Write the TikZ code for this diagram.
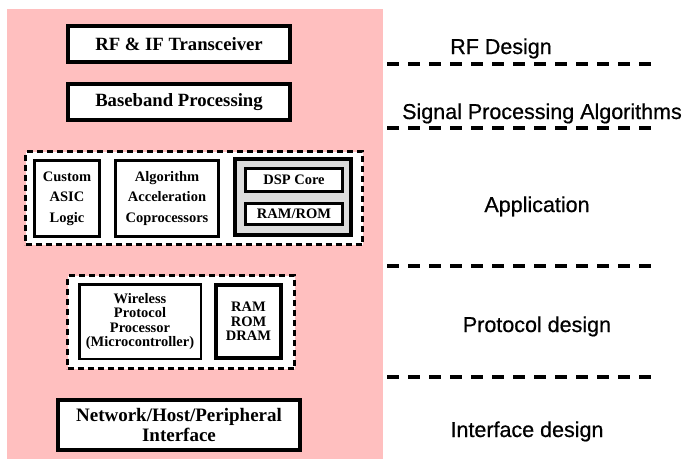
\documentclass[tikz,border=0pt]{standalone}
\usepackage{fontspec}
\setmainfont{Liberation Serif}
\newfontfamily\layerfont[FakeBold=0.6]{Liberation Sans}
\definecolor{bgpink}{RGB}{255,191,191}
\definecolor{dspgray}{RGB}{220,220,220}

\begin{document}
\begin{tikzpicture}[x=1pt,y=-1pt,
    unitbox/.style={draw=black,fill=white,inner sep=0pt,align=center},
    heavy/.style={line width=4pt},
    medium/.style={line width=3pt},
    dashbox/.style={draw=black,fill=white,inner sep=0pt,line width=3pt,dash pattern=on 6pt off 4pt},
    bigtxt/.style={font=\bfseries\fontsize{18.7}{20}\selectfont},
    midtxt/.style={font=\bfseries\fontsize{14.5}{20.5}\selectfont},
    smalltxt/.style={font=\bfseries\fontsize{14.5}{14.5}\selectfont},
    layer/.style={font=\layerfont\fontsize{21.5}{24}\selectfont,anchor=base},
    sep/.style={line width=4.5pt,dash pattern=on 12pt off 9pt}]
            \useasboundingbox (0,0) rectangle (684,460);
            \fill[bgpink] (7,9) rectangle (383,459);
            \node[unitbox,heavy,bigtxt,minimum width=222pt,minimum height=36pt] (rfif) at (179,44) {RF \& IF Transceiver};
            \node[unitbox,heavy,bigtxt,minimum width=222pt,minimum height=36pt] (baseband) at (179,102) {Baseband Processing};
            \node[dashbox,minimum width=337pt,minimum height=93pt] (appl) at (194,198) {};
            \node[unitbox,medium,midtxt,minimum width=65pt,minimum height=76pt] (asic) at (67,198.5) {Custom\\ASIC\\Logic};
            \node[unitbox,medium,midtxt,minimum width=103pt,minimum height=76pt] (accel) at (167,198.5) {Algorithm\\Acceleration\\Coprocessors};
            \node[unitbox,heavy,fill=dspgray,minimum width=116pt,minimum height=76pt] (dsp) at (293,197) {};
            \node[unitbox,medium,midtxt,minimum width=97pt,minimum height=23pt] (core) at (294,180) {DSP Core};
            \node[unitbox,medium,midtxt,minimum width=97pt,minimum height=21pt] (mem) at (294,214) {RAM/ROM};
            \node[dashbox,minimum width=227pt,minimum height=93pt] (proto) at (181,322) {};
            \node[unitbox,line width=2.5pt,smalltxt,minimum width=121.5pt,minimum height=74.5pt] (mcu) at (140,321.5) {Wireless\\Protocol\\Processor\\(Microcontroller)};
            \node[unitbox,heavy,smalltxt,minimum width=65pt,minimum height=73pt] (store) at (248.5,321.5) {RAM\\ROM\\DRAM};
            \node[unitbox,heavy,font=\bfseries\fontsize{19}{20}\selectfont,minimum width=242pt,minimum height=50pt] (host) at (179,425) {Network/Host/Peripheral\\Interface};
            \node[layer] (rfdes) at (501,54) {RF Design};
            \node[layer] (sigdes) at (542,119) {Signal Processing Algorithms};
            \node[layer] (appdes) at (537,212) {Application};
            \node[layer] (protdes) at (537,332) {Protocol design};
            \node[layer] (ifdes) at (527,437) {Interface design};
            \foreach \y/\n in {64/a,128/b,266/c,377/d} {
                \coordinate (sep\n l) at (387,\y);
                \coordinate (sep\n r) at (651,\y);
                \draw[sep] (sep\n l) -- (sep\n r);
            }
        \end{tikzpicture}
\end{document}
